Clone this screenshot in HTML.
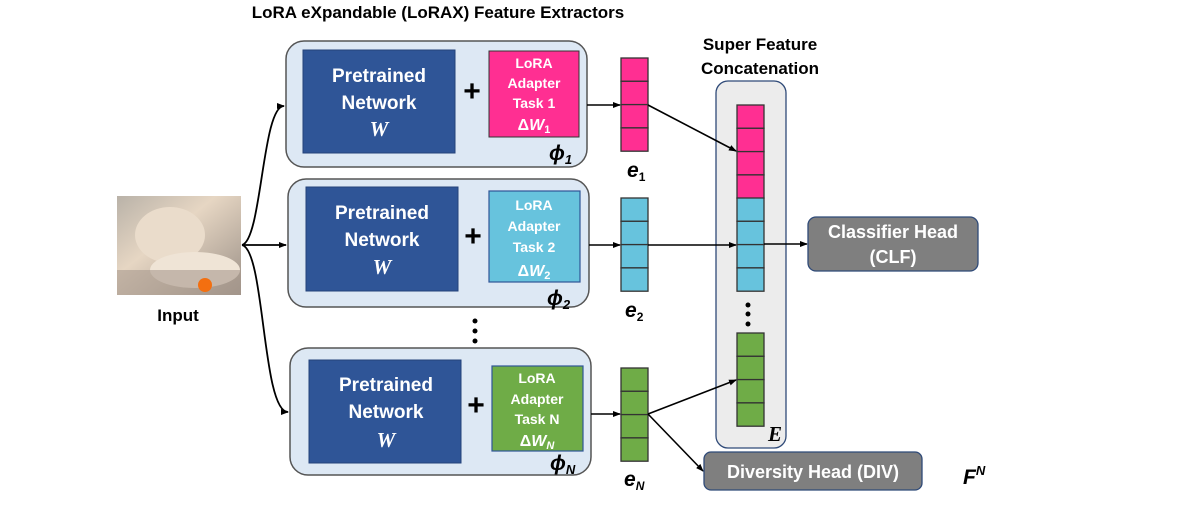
<!DOCTYPE html>
<html><head><meta charset="utf-8"><style>
body{margin:0;background:#fff;}
svg text{font-family:"Liberation Sans",sans-serif;}
</style></head><body>
<svg width="1196" height="515" viewBox="0 0 1196 515" xmlns="http://www.w3.org/2000/svg">
<defs>
<marker id="a" markerWidth="8" markerHeight="8" refX="7" refY="4" orient="auto" markerUnits="userSpaceOnUse"><path d="M0,1 L8,4 L0,7 z" fill="#000"/></marker>
<linearGradient id="cat" x1="0" y1="0" x2="1" y2="1"><stop offset="0" stop-color="#b9b2a8"/><stop offset="0.4" stop-color="#e6d6c3"/><stop offset="1" stop-color="#9a8f86"/></linearGradient>
</defs>
<text x="438" y="18" font-size="17" font-weight="bold" text-anchor="middle">LoRA eXpandable (LoRAX) Feature Extractors</text>
<text x="760" y="50" font-size="17" font-weight="bold" text-anchor="middle">Super Feature</text>
<text x="760" y="74" font-size="17" font-weight="bold" text-anchor="middle">Concatenation</text>

<!-- cat -->
<rect x="117" y="196" width="124" height="99" fill="url(#cat)"/>
<ellipse cx="170" cy="235" rx="35" ry="28" fill="#eadccb"/>
<ellipse cx="195" cy="270" rx="45" ry="18" fill="#efe4d6"/>
<rect x="117" y="270" width="124" height="25" fill="#a89a8e" opacity="0.6"/>
<circle cx="205" cy="285" r="7" fill="#f36f10"/>
<text x="178" y="321" font-size="17" font-weight="bold" text-anchor="middle">Input</text>

<g fill="none" stroke="#000" stroke-width="1.8">
<path d="M242,245 C262,240 262,106 284,106" marker-end="url(#a)"/>
<path d="M242,245 L286,245" marker-end="url(#a)"/>
<path d="M242,245 C265,250 262,412 288,412" marker-end="url(#a)"/>
</g>

<g stroke="#555" stroke-width="1.5" fill="#dde8f4">
<rect x="286" y="41" width="301" height="126" rx="18"/>
<rect x="288" y="179" width="301" height="128" rx="18"/>
<rect x="290" y="348" width="301" height="127" rx="18"/>
</g>
<g fill="#2f5597" stroke="#24427a" stroke-width="1">
<rect x="303" y="50" width="152" height="103"/>
<rect x="306" y="187" width="152" height="104"/>
<rect x="309" y="360" width="152" height="103"/>
</g>
<rect x="489" y="51" width="90" height="86" fill="#ff2f92" stroke="#333" stroke-width="1"/>
<rect x="489" y="191" width="91" height="91" fill="#67c3dd" stroke="#2f5597" stroke-width="1.2"/>
<rect x="492" y="366" width="91" height="85" fill="#6fac47" stroke="#2f5597" stroke-width="1.2"/>

<g fill="#fff" font-size="19" font-weight="bold" text-anchor="middle">
<text x="379" y="82">Pretrained</text><text x="379" y="109">Network</text>
<text x="382" y="219">Pretrained</text><text x="382" y="246">Network</text>
<text x="386" y="391">Pretrained</text><text x="386" y="418">Network</text>
</g>
<g fill="#fff" font-size="21" font-style="italic" font-weight="bold" text-anchor="middle">
<text x="379" y="136" style="font-family:'Liberation Serif',serif">W</text>
<text x="382" y="274" style="font-family:'Liberation Serif',serif">W</text>
<text x="386" y="447" style="font-family:'Liberation Serif',serif">W</text>
</g>
<g fill="#fff" font-size="14" font-weight="bold" text-anchor="middle">
<text x="534" y="68">LoRA</text><text x="534" y="88">Adapter</text><text x="534" y="108">Task 1</text>
<text x="534" y="210">LoRA</text><text x="534" y="231">Adapter</text><text x="534" y="252">Task 2</text>
<text x="537" y="383">LoRA</text><text x="537" y="404">Adapter</text><text x="537" y="424">Task N</text>
</g>
<g fill="#fff" font-size="16" font-weight="bold" text-anchor="middle" style="font-family:'Liberation Serif',serif">
<text x="534" y="130">Δ<tspan font-style="italic">W</tspan><tspan font-size="11" dy="3">1</tspan></text>
<text x="534" y="276">Δ<tspan font-style="italic">W</tspan><tspan font-size="11" dy="3">2</tspan></text>
<text x="537" y="446">Δ<tspan font-style="italic">W</tspan><tspan font-size="11" dy="3" font-style="italic">N</tspan></text>
</g>
<g font-size="30" font-weight="bold" text-anchor="middle">
<text x="472" y="101">+</text><text x="473" y="246">+</text><text x="476" y="415">+</text>
</g>
<g font-size="21" font-weight="bold" font-style="italic" style="font-family:'Liberation Serif',serif">
<text x="549" y="160">ϕ<tspan font-size="13" dy="4">1</tspan></text>
<text x="547" y="305">ϕ<tspan font-size="13" dy="4">2</tspan></text>
<text x="550" y="470">ϕ<tspan font-size="13" dy="4">N</tspan></text>
<text x="627" y="177">e<tspan font-size="12" dy="4" font-style="normal">1</tspan></text>
<text x="625" y="317">e<tspan font-size="12" dy="4" font-style="normal">2</tspan></text>
<text x="624" y="486">e<tspan font-size="12" dy="4">N</tspan></text>
<text x="963" y="484">F<tspan font-size="13" dy="-9">N</tspan></text>
</g>
<g fill="#000">
<circle cx="475" cy="321" r="2.5"/><circle cx="475" cy="331" r="2.5"/><circle cx="475" cy="341" r="2.5"/>
</g>

<rect x="716" y="81" width="70" height="367" rx="12" fill="#ececec" stroke="#2f4a78" stroke-width="1.3"/>
<g fill="#000">
<circle cx="748" cy="305" r="2.5"/><circle cx="748" cy="314" r="2.5"/><circle cx="748" cy="324" r="2.5"/>
</g>
<text x="768" y="441" font-size="21" font-weight="bold" font-style="italic" style="font-family:'Liberation Serif',serif">E</text>

<g stroke="#333" stroke-width="1.3">
<g fill="#ff2f92"><rect x="621" y="58" width="27" height="23.3"/><rect x="621" y="81.3" width="27" height="23.3"/><rect x="621" y="104.6" width="27" height="23.3"/><rect x="621" y="127.9" width="27" height="23.3"/>
<rect x="737" y="105" width="27" height="23.3"/><rect x="737" y="128.3" width="27" height="23.3"/><rect x="737" y="151.6" width="27" height="23.3"/><rect x="737" y="174.9" width="27" height="23.3"/></g>
<g fill="#67c3dd"><rect x="621" y="198" width="27" height="23.3"/><rect x="621" y="221.3" width="27" height="23.3"/><rect x="621" y="244.6" width="27" height="23.3"/><rect x="621" y="267.9" width="27" height="23.3"/>
<rect x="737" y="198" width="27" height="23.3"/><rect x="737" y="221.3" width="27" height="23.3"/><rect x="737" y="244.6" width="27" height="23.3"/><rect x="737" y="267.9" width="27" height="23.3"/></g>
<g fill="#6fac47"><rect x="621" y="368" width="27" height="23.3"/><rect x="621" y="391.3" width="27" height="23.3"/><rect x="621" y="414.6" width="27" height="23.3"/><rect x="621" y="437.9" width="27" height="23.3"/>
<rect x="737" y="333" width="27" height="23.3"/><rect x="737" y="356.3" width="27" height="23.3"/><rect x="737" y="379.6" width="27" height="23.3"/><rect x="737" y="402.9" width="27" height="23.3"/></g>
</g>

<g fill="none" stroke="#000" stroke-width="1.6">
<path d="M587,105 L620,105" marker-end="url(#a)"/>
<path d="M589,245 L620,245" marker-end="url(#a)"/>
<path d="M591,414 L620,414" marker-end="url(#a)"/>
<path d="M648,105 L736,151" marker-end="url(#a)"/>
<path d="M648,245 L736,245" marker-end="url(#a)"/>
<path d="M764,244 L807,244" marker-end="url(#a)"/>
<path d="M648,414 L736,380" marker-end="url(#a)"/>
<path d="M648,414 L703,471" marker-end="url(#a)"/>
</g>

<rect x="808" y="217" width="170" height="54" rx="8" fill="#7f7f7f" stroke="#2f4a78" stroke-width="1.3"/>
<text x="893" y="238" font-size="18" font-weight="bold" fill="#fff" text-anchor="middle">Classifier Head</text>
<text x="893" y="263" font-size="18" font-weight="bold" fill="#fff" text-anchor="middle">(CLF)</text>
<rect x="704" y="452" width="218" height="38" rx="7" fill="#7f7f7f" stroke="#2f4a78" stroke-width="1.3"/>
<text x="813" y="478" font-size="18" font-weight="bold" fill="#fff" text-anchor="middle">Diversity Head (DIV)</text>
</svg>
</body></html>
